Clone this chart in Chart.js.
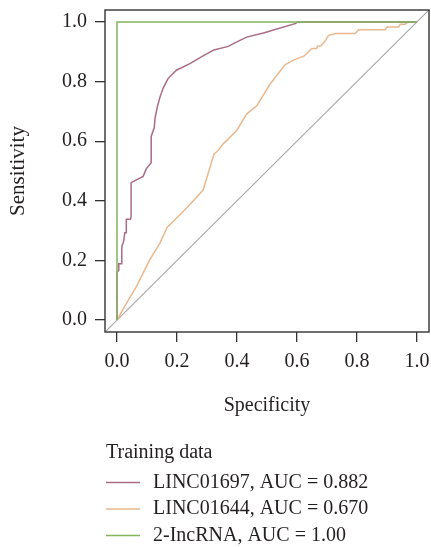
<!DOCTYPE html>
<html lang="en">
<head>
    <meta charset="UTF-8">
    <title>ROC - Training data</title>
    <script src="https://cdn.jsdelivr.net/npm/chart.js@4"></script>
    <style>
        body { margin: 0; background: #ffffff; }
        #wrap { position: relative; width: 431px; height: 547px; }
    </style>
</head>
<body>
    <div id="wrap">
        <canvas id="rocChart"></canvas>
    </div>
    <script>
        // ROC curves (x = Specificity axis, y = Sensitivity)
        const linc01697X = [0, 0, 0.006, 0.006, 0.016, 0.016, 0.022, 0.026, 0.031, 0.031, 0.045, 0.047, 0.047, 0.087, 0.098, 0.114, 0.114, 0.124, 0.127, 0.134, 0.143, 0.154, 0.170, 0.198, 0.243, 0.287, 0.323, 0.371, 0.393, 0.432, 0.488, 0.596, 0.6, 1.0];
        const linc01697Y = [0, 0.160, 0.167, 0.189, 0.189, 0.247, 0.263, 0.293, 0.293, 0.338, 0.338, 0.349, 0.461, 0.482, 0.508, 0.528, 0.616, 0.645, 0.678, 0.713, 0.747, 0.778, 0.810, 0.838, 0.860, 0.886, 0.906, 0.918, 0.930, 0.949, 0.963, 0.995, 1.0, 1.0];

        const linc01644X = [0, 0.026, 0.065, 0.109, 0.143, 0.167, 0.226, 0.287, 0.323, 0.337, 0.354, 0.399, 0.432, 0.466, 0.510, 0.560, 0.588, 0.624, 0.649, 0.666, 0.668, 0.679, 0.694, 0.705, 0.730, 0.794, 0.805, 0.894, 0.900, 0.939, 0.944, 0.961, 0.97, 1.0];
        const linc01644Y = [0, 0.047, 0.113, 0.202, 0.258, 0.311, 0.369, 0.436, 0.556, 0.569, 0.591, 0.636, 0.691, 0.719, 0.791, 0.856, 0.872, 0.886, 0.911, 0.911, 0.919, 0.919, 0.936, 0.955, 0.961, 0.961, 0.974, 0.974, 0.983, 0.983, 0.992, 0.992, 1.0, 1.0];

        const lnc2X = [0, 0, 1];
        const lnc2Y = [0, 1, 1];

        const diagX = [-0.04, 1.04];
        const diagY = [-0.04, 1.04];

        const seriesLabels = ['LINC01697, AUC = 0.882', 'LINC01644, AUC = 0.670', '2-IncRNA, AUC = 1.00'];
        const seriesColors = ['#aa6b87', '#eab88e', '#84b55c'];
        const tickVals = [0, 0.2, 0.4, 0.6, 0.8, 1.0];
        const legendTitle = 'Training data';

        const serif = "'Liberation Serif', 'DejaVu Serif', serif";
        const textColor = '#231f20';

        function toPoints(xs, ys) {
            return xs.map((x, i) => ({ x: x, y: ys[i] }));
        }

        // box round the plot + the legend under the axis title
        const boxAndLegend = {
            id: 'boxAndLegend',
            afterDatasetsDraw(chart) {
                const a = chart.chartArea;
                const ctx = chart.ctx;
                ctx.save();
                ctx.strokeStyle = '#333333';
                ctx.lineWidth = 1.4;
                ctx.strokeRect(a.left, a.top, a.right - a.left, a.bottom - a.top);
                ctx.restore();
            },
            afterDraw(chart) {
                const ctx = chart.ctx;
                ctx.save();
                ctx.font = '20px ' + serif;
                ctx.fillStyle = textColor;
                ctx.textBaseline = 'middle';
                ctx.textAlign = 'left';
                ctx.fillText(legendTitle, 106, 453);
                seriesLabels.forEach((lab, i) => {
                    const y = 482.5 + i * 26.5;
                    ctx.strokeStyle = seriesColors[i];
                    ctx.lineWidth = 1.5;
                    ctx.beginPath();
                    ctx.moveTo(106, y);
                    ctx.lineTo(140, y);
                    ctx.stroke();
                    ctx.fillText(lab, 153, y);
                });
                ctx.restore();
            }
        };

        const lineStyle = { pointRadius: 0, borderWidth: 1.5, tension: 0, fill: false };

        new Chart(document.getElementById('rocChart'), {
            type: 'line',
            data: {
                datasets: [
                    Object.assign({ label: seriesLabels[0], data: toPoints(linc01697X, linc01697Y), borderColor: seriesColors[0], order: 2 }, lineStyle),
                    Object.assign({ label: seriesLabels[1], data: toPoints(linc01644X, linc01644Y), borderColor: seriesColors[1], order: 3 }, lineStyle),
                    Object.assign({ label: seriesLabels[2], data: toPoints(lnc2X, lnc2Y), borderColor: seriesColors[2], order: 1 }, lineStyle),
                    Object.assign({ label: 'diagonal', data: toPoints(diagX, diagY), borderColor: '#aaaaaa', order: 4 }, lineStyle, { borderWidth: 1.2 })
                ]
            },
            options: {
                responsive: true,
                maintainAspectRatio: false,
                animation: false,
                layout: { padding: { top: 10, right: 2, left: 0, bottom: 115 } },
                plugins: {
                    legend: { display: false },
                    tooltip: { enabled: false }
                },
                scales: {
                    x: {
                        type: 'linear',
                        min: -0.04,
                        max: 1.04,
                        afterBuildTicks: s => { s.ticks = tickVals.map(v => ({ value: v })); },
                        afterFit: s => { s.height = 100; s.paddingLeft = 0; s.paddingRight = 0; },
                        grid: { drawOnChartArea: false, drawTicks: true, tickLength: 10, color: '#333333', lineWidth: 1.3 },
                        border: { display: false },
                        ticks: {
                            padding: 8,
                            color: textColor,
                            font: { family: serif, size: 20 },
                            callback: v => v.toFixed(1)
                        },
                        title: {
                            display: true,
                            text: 'Specificity',
                            color: textColor,
                            font: { family: serif, size: 20 },
                            padding: { top: 0, bottom: 14 }
                        }
                    },
                    y: {
                        type: 'linear',
                        min: -0.04,
                        max: 1.04,
                        afterBuildTicks: s => { s.ticks = tickVals.map(v => ({ value: v })); },
                        afterFit: s => { s.width = 105; s.paddingTop = 0; s.paddingBottom = 0; },
                        grid: { drawOnChartArea: false, drawTicks: true, tickLength: 10, color: '#333333', lineWidth: 1.3 },
                        border: { display: false },
                        ticks: {
                            padding: 8,
                            color: textColor,
                            font: { family: serif, size: 20 },
                            callback: v => v.toFixed(1)
                        },
                        title: {
                            display: true,
                            text: 'Sensitivity',
                            color: textColor,
                            font: { family: serif, size: 21 },
                            padding: { top: 6, bottom: 0 }
                        }
                    }
                }
            },
            plugins: [boxAndLegend]
        });
    </script>
</body>
</html>
